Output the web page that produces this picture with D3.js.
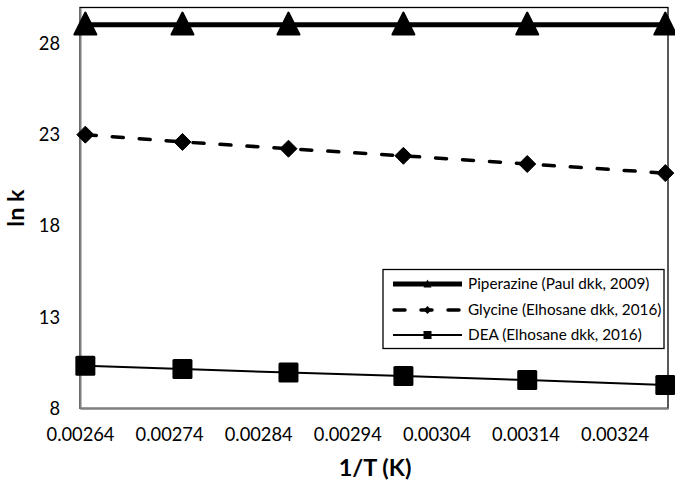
<!DOCTYPE html>
<html>
<head>
<meta charset="utf-8">
<script src="https://cdn.jsdelivr.net/npm/d3@7"></script>
<style>
  html, body { margin: 0; padding: 0; background: #fff; }
  svg { display: block; font-family: Lato, "Open Sans", sans-serif; }
</style>
</head>
<body>
<svg id="chart" width="675" height="480"></svg>
<script>
// ---- data ----
const invT = [0.002646, 0.002755, 0.002874, 0.003003, 0.003142, 0.003297];
const piperazine = [29.06, 29.06, 29.06, 29.06, 29.06, 29.06];
const glycine = [23.02, 22.62, 22.25, 21.86, 21.41, 20.91];
const dea = [10.34, 10.16, 9.96, 9.77, 9.55, 9.28];
const seriesNames = ["Piperazine (Paul dkk, 2009)", "Glycine (Elhosane dkk, 2016)", "DEA (Elhosane dkk, 2016)"];
const xTicks = [0.00264, 0.00274, 0.00284, 0.00294, 0.00304, 0.00314, 0.00324];
const yTicks = [8, 13, 18, 23, 28];
const xTitle = "1/T (K)";
const yTitle = "ln k";

// ---- layout ----
const svg = d3.select("#chart");
const m = { left: 80, right: 668, top: 7.5, bottom: 408.3 };
const x = d3.scaleLinear().domain([0.00264, 0.0033]).range([m.left, m.right]);
const y = d3.scaleLinear().domain([8, 30]).range([m.bottom, m.top]);

svg.append("rect")
  .attr("x", m.left).attr("y", m.top)
  .attr("width", m.right - m.left).attr("height", m.bottom - m.top)
  .attr("fill", "none").attr("stroke", "#000").attr("stroke-width", 1.3);

const xAxis = d3.axisBottom(x).tickValues(xTicks).tickSize(0).tickPadding(20)
  .tickFormat(d3.format(".5f"));
const gx = svg.append("g").attr("transform", `translate(0,${m.bottom})`).call(xAxis);
gx.select(".domain").attr("stroke", "#7f7f7f").attr("stroke-width", 2);
gx.selectAll("text").attr("font-size", 18.3).attr("fill", "#000").attr("font-family", "Lato");

const yAxis = d3.axisLeft(y).tickValues(yTicks).tickSize(0).tickPadding(20);
const gy = svg.append("g").attr("transform", `translate(${m.left},0)`).call(yAxis);
gy.select(".domain").attr("stroke", "#7f7f7f").attr("stroke-width", 2);
gy.selectAll("text").attr("font-size", 18.3).attr("fill", "#000").attr("font-family", "Lato");

svg.append("text").attr("x", 375).attr("y", 476)
  .attr("text-anchor", "middle").attr("font-size", 23.5).attr("font-weight", "bold")
  .text(xTitle);
svg.append("text").attr("transform", "translate(24,208) rotate(-90)")
  .attr("text-anchor", "middle").attr("font-size", 23.5).attr("font-weight", "bold")
  .text(yTitle);

const line = d3.line().x((d, i) => x(invT[i])).y(d => y(d));

svg.append("path").datum(piperazine).attr("d", line)
  .attr("fill", "none").attr("stroke", "#000").attr("stroke-width", 5);
svg.append("path").datum(glycine).attr("d", line)
  .attr("fill", "none").attr("stroke", "#000").attr("stroke-width", 3.5)
  .attr("stroke-dasharray", "11,16").attr("stroke-linecap", "round");
svg.append("path").datum(dea).attr("d", line)
  .attr("fill", "none").attr("stroke", "#000").attr("stroke-width", 2);

function tri(cx, cy, s) {
  const h = s;
  return `M${cx},${cy - h * 0.55} L${cx + s * 0.5},${cy + h * 0.45} L${cx - s * 0.5},${cy + h * 0.45} Z`;
}
function diamond(cx, cy, s) {
  const r = s / 2;
  return `M${cx},${cy - r} L${cx + r},${cy} L${cx},${cy + r} L${cx - r},${cy} Z`;
}

svg.append("g").selectAll("path").data(piperazine).join("path")
  .attr("d", (d, i) => tri(x(invT[i]), y(d), 22))
  .attr("fill", "#000").attr("stroke", "#000").attr("stroke-width", 2).attr("stroke-linejoin", "round");
svg.append("g").selectAll("path").data(glycine).join("path")
  .attr("d", (d, i) => diamond(x(invT[i]), y(d), 17))
  .attr("fill", "#000").attr("stroke", "#000").attr("stroke-width", 1).attr("stroke-linejoin", "round");
svg.append("g").selectAll("rect").data(dea).join("rect")
  .attr("x", (d, i) => x(invT[i]) - 10).attr("y", d => y(d) - 10)
  .attr("width", 20).attr("height", 20).attr("rx", 1.5)
  .attr("fill", "#000");

const lg = svg.append("g");
lg.append("rect").attr("x", 383).attr("y", 269.5).attr("width", 281).attr("height", 79)
  .attr("fill", "#fff").attr("stroke", "#000").attr("stroke-width", 1.3);
const rows = [284, 310, 335];
const lx0 = 393, lx1 = 462, lxm = (lx0 + lx1) / 2;
lg.append("line").attr("x1", lx0).attr("x2", lx1).attr("y1", rows[0]).attr("y2", rows[0])
  .attr("stroke", "#000").attr("stroke-width", 5);
lg.append("path").attr("d", tri(lxm, rows[0], 8)).attr("fill", "#000");
lg.append("line").attr("x1", lx0).attr("x2", lx1).attr("y1", rows[1]).attr("y2", rows[1])
  .attr("stroke", "#000").attr("stroke-width", 3.5).attr("stroke-dasharray", "11,16")
  .attr("stroke-linecap", "round").attr("stroke-dashoffset", -1);
lg.append("path").attr("d", diamond(lxm, rows[1], 8)).attr("fill", "#000");
lg.append("line").attr("x1", lx0).attr("x2", lx1).attr("y1", rows[2]).attr("y2", rows[2])
  .attr("stroke", "#000").attr("stroke-width", 2);
lg.append("rect").attr("x", lxm - 4).attr("y", rows[2] - 4).attr("width", 8).attr("height", 8).attr("fill", "#000");

lg.selectAll("text.lab").data(seriesNames).join("text").attr("class", "lab")
  .attr("x", 468).attr("y", (d, i) => rows[i]).attr("dy", "0.35em")
  .attr("font-size", 15.3).attr("fill", "#000")
  .text(d => d);
</script>
</body>
</html>
